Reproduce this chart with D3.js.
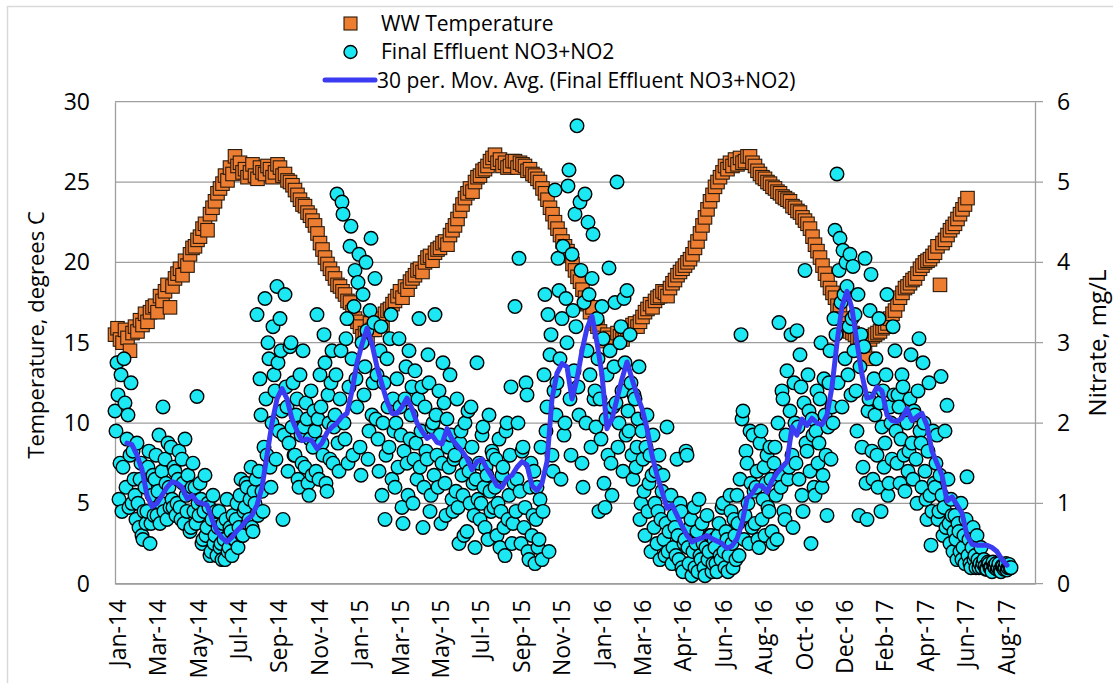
<!DOCTYPE html>
<html>
<head>
<meta charset="utf-8">
<script src="https://cdn.jsdelivr.net/npm/d3@7"></script>
<style>
  body { margin: 0; background: #fff; }
  svg text { font-family: "Open Sans", sans-serif; fill: #000; }
</style>
</head>
<body>
<div id="chart"></div>
<script>
// x axis labels, one every tickStep samples
const xLabels = ["Jan-14","Mar-14","May-14","Jul-14","Sep-14","Nov-14","Jan-15","Mar-15","May-15","Jul-15","Sep-15","Nov-15",
                 "Jan-16","Mar-16","Apr-16","Jun-16","Aug-16","Oct-16","Dec-16","Feb-17","Apr-17","Jun-17","Aug-17"];

// WW temperature (deg C), one reading every 2.5 samples from sample 0
const tempStep = 2.5;
const wwTemp = [
  15.5, 15.9, 15.2, 15.0, 15.8, 15.3, 14.5, 15.6, 16.0, 15.7,
  16.4, 16.1, 16.8, 16.3, 16.9, 17.2, 17.3, 16.9, 17.9, 17.6,
  18.2, 18.6, 17.2, 18.5, 19.0, 19.3, 19.6, 19.2, 20.1, 19.8,
  20.5, 20.9, 21.0, 21.4, 21.6, 22.1, 22.4, 22.0, 23.0, 23.4,
  23.8, 24.3, 24.6, 24.9, 25.4, 25.1, 25.9, 25.5, 26.6, 26.0,
  26.2, 25.6, 25.8, 25.3, 25.6, 26.1, 25.4, 25.2, 25.9, 25.6,
  25.5, 26.0, 25.8, 25.3, 25.6, 26.1, 25.9, 25.4, 25.5, 25.1,
  25.0, 24.8, 24.5, 24.2, 23.9, 23.6, 23.5, 23.1, 22.9, 22.6,
  22.3, 21.8, 21.2, 20.8, 20.3, 19.9, 19.6, 19.3, 19.0, 18.6,
  18.5, 18.2, 18.0, 17.6, 17.5, 16.9, 16.5, 16.3, 16.0, 15.4,
  15.6, 15.3, 16.2, 15.8, 15.8, 16.3, 16.5, 16.1, 16.8, 17.0,
  17.1, 17.4, 17.6, 17.9, 18.2, 17.8, 18.5, 18.3, 18.8, 19.0,
  19.2, 19.5, 19.6, 19.4, 20.0, 20.3, 20.4, 20.1, 20.6, 20.8,
  20.9, 21.2, 21.3, 21.1, 21.7, 22.0, 22.3, 22.7, 23.2, 23.6,
  24.0, 24.3, 24.6, 24.4, 25.0, 25.3, 25.4, 25.7, 25.8, 26.0,
  26.3, 26.5, 26.7, 26.2, 26.4, 26.0, 26.2, 25.9, 26.0, 26.3,
  26.3, 25.9, 26.2, 26.1, 26.0, 25.7, 25.8, 25.5, 25.4, 25.2,
  25.0, 24.6, 24.3, 23.9, 23.4, 23.0, 22.5, 22.1, 21.7, 21.3,
  21.0, 20.7, 20.4, 19.9, 19.5, 19.1, 18.8, 18.3, 17.8, 17.4,
  16.9, 17.2, 16.2, 16.0, 15.7, 15.3, 15.1, 15.5, 15.3, 15.0,
  15.0, 15.6, 15.4, 15.2, 15.6, 15.8, 15.9, 16.1, 16.2, 16.0,
  16.3, 16.6, 16.9, 17.1, 17.4, 17.2, 17.6, 17.8, 17.9, 18.2,
  18.1, 17.9, 18.4, 18.7, 18.9, 19.2, 19.4, 19.6, 19.8, 20.0,
  20.2, 20.5, 20.9, 21.3, 21.8, 22.3, 22.8, 23.3, 23.8, 24.2,
  24.7, 25.0, 25.3, 25.6, 26.0, 25.8, 26.2, 26.0, 26.4, 26.1,
  26.5, 26.2, 26.3, 26.6, 26.6, 26.2, 26.0, 25.7, 25.5, 25.3,
  25.2, 25.0, 24.9, 24.7, 24.6, 24.4, 24.3, 24.1, 24.0, 23.9,
  23.8, 23.5, 23.4, 23.2, 23.1, 22.8, 22.6, 22.4, 22.1, 21.6,
  21.1, 20.7, 20.3, 19.8, 19.3, 18.9, 18.4, 18.1, 17.8, 17.3,
  17.0, 16.5, 16.2, 15.9, 15.7, 15.6, 15.5, 15.3, 15.4, 15.1,
  14.8, 14.0, 15.2, 15.4, 15.5, 15.6, 15.7, 15.9, 16.0, 16.2,
  16.5, 16.8, 17.0, 17.4, 17.8, 18.1, 18.4, 18.5, 18.7, 18.9,
  19.0, 19.3, 19.6, 19.8, 20.0, 20.1, 20.2, 20.4, 20.6, 21.0,
  18.6, 21.2, 21.4, 21.7, 22.0, 22.2, 22.4, 22.7, 23.0, 23.3,
  23.6, 24.0
];

// final effluent NO3+NO2 (mg/L), one reading per sample from sample 0
const noxStep = 1;
const effluentNox = [
  2.15, 1.9, 2.75, 2.35, 1.05, 1.5, 2.6, 0.9, 1.45, 2.8, 2.25, 1.2, 1.8, 2.1, 0.95, 1.6, 2.5, 1.0, 1.65, 1.3,
  1.1, 0.8, 1.75, 1.0, 0.7, 1.3, 1.5, 0.6, 0.55, 0.9, 1.2, 0.75, 0.9, 1.45, 1.65, 0.5, 0.75, 1.1, 1.35, 0.85,
  1.3, 1.6, 0.85, 1.15, 1.85, 0.75, 1.0, 1.4, 2.2, 0.9, 1.55, 1.25, 0.8, 1.75, 1.2, 0.95, 1.7, 1.05, 0.95, 1.45,
  1.4, 0.85, 1.0, 1.3, 1.65, 0.95, 0.8, 1.55, 1.25, 0.75, 1.8, 1.1, 0.9, 1.35, 1.15, 0.65, 0.7, 1.2, 1.5, 0.9,
  1.2, 0.75, 2.33, 1.0, 0.85, 1.25, 1.05, 0.5, 0.55, 0.9, 1.35, 0.6, 0.7, 1.0, 0.95, 0.35, 0.4, 0.8, 1.1, 0.5,
  0.6, 0.9, 0.35, 0.7, 0.9, 0.45, 0.5, 0.3, 0.75, 0.55, 0.3, 0.8, 1.05, 0.4, 0.45, 0.7, 0.65, 0.35, 0.85, 0.55,
  0.55, 0.8, 1.0, 0.45, 0.7, 1.1, 1.3, 0.6, 0.6, 0.9, 0.95, 1.25, 1.2, 0.75, 0.8, 1.05, 1.45, 0.7, 0.65, 1.15,
  1.0, 1.3, 3.35, 0.85, 1.4, 2.55, 2.1, 1.15, 0.9, 1.7, 3.55, 2.3, 1.6, 3.0, 2.8, 1.45, 1.2, 2.0, 3.2, 2.6,
  2.4, 1.55, 3.7, 2.75, 1.9, 3.3, 2.9, 2.15, 0.8, 1.85, 3.6, 2.45, 2.2, 1.4, 1.75, 2.95, 3.0, 1.95, 2.5, 1.6,
  1.6, 2.1, 2.3, 1.3, 1.2, 2.6, 1.85, 1.5, 2.9, 1.95, 1.45, 2.25, 2.05, 1.25, 1.1, 1.8, 2.4, 1.35, 1.7, 2.15,
  1.9, 1.4, 3.35, 2.05, 1.3, 2.6, 2.2, 1.75, 1.6, 3.1, 2.75, 1.25, 1.15, 2.35, 2.0, 1.55, 2.5, 2.9, 1.5, 1.95,
  2.1, 2.6, 4.85, 1.75, 1.4, 2.3, 2.9, 4.75, 4.6, 2.0, 1.8, 3.05, 3.3, 1.5, 2.45, 4.2, 4.45, 2.8, 1.6, 3.45,
  3.9, 2.55, 2.2, 3.75, 4.1, 1.7, 1.35, 3.0, 3.6, 2.35, 2.7, 4.0, 3.15, 1.55, 1.9, 3.4, 4.3, 2.1, 2.5, 3.25,
  3.8, 2.05, 2.6, 1.8, 1.4, 2.9, 3.2, 1.1, 2.0, 2.5, 0.8, 1.6, 2.8, 2.2, 1.7, 3.05, 3.35, 1.3, 2.3, 1.9,
  1.2, 2.0, 2.55, 1.45, 3.05, 2.2, 1.85, 0.95, 0.75, 1.65, 2.3, 2.7, 1.5, 1.1, 2.9, 1.8, 2.1, 2.45, 1.0, 1.55,
  2.65, 1.75, 1.3, 2.3, 3.3, 1.45, 1.9, 2.45, 0.7, 1.2, 2.2, 1.65, 1.55, 2.85, 2.5, 0.9, 1.1, 1.95, 2.0, 1.35,
  3.35, 2.1, 1.6, 1.2, 2.4, 1.85, 0.75, 1.5, 2.75, 2.25, 1.25, 0.85, 2.05, 1.7, 1.45, 2.6, 1.85, 1.05, 0.9, 1.55,
  1.6, 1.15, 2.3, 0.95, 0.5, 1.75, 1.9, 1.35, 1.1, 0.6, 2.0, 1.5, 0.65, 2.15, 1.4, 1.0, 2.2, 1.7, 1.25, 0.85,
  0.45, 1.3, 2.75, 1.05, 1.5, 0.8, 1.0, 1.85, 1.95, 1.2, 0.7, 1.45, 1.35, 0.55, 2.1, 1.15, 0.9, 1.65, 1.6, 0.95,
  1.2, 1.55, 0.6, 1.0, 1.8, 0.45, 0.9, 1.35, 1.45, 0.7, 0.35, 1.9, 2.0, 0.8, 1.1, 1.6, 2.45, 0.5, 0.75, 1.25,
  3.45, 0.9, 1.3, 2.0, 4.05, 1.15, 0.5, 1.65, 1.7, 0.7, 0.95, 2.5, 2.35, 0.4, 0.3, 1.2, 1.5, 0.6, 0.85, 1.4,
  0.25, 0.8, 1.2, 0.45, 0.55, 1.05, 1.7, 0.3, 0.9, 2.6, 3.6, 1.9, 2.2, 3.35, 0.4, 2.85, 3.1, 1.6, 1.4, 2.4,
  4.9, 2.1, 2.5, 4.05, 3.65, 2.8, 1.3, 3.3, 4.2, 1.85, 2.0, 3.55, 3.0, 4.95, 5.15, 2.3, 1.6, 4.1, 3.4, 2.65,
  4.6, 3.2, 5.7, 2.45, 2.1, 4.75, 3.9, 1.5, 1.2, 3.5, 4.85, 2.0, 2.9, 4.5, 3.6, 2.6, 1.7, 3.8, 4.35, 2.3,
  2.4, 1.95, 3.3, 2.8, 0.9, 2.3, 1.8, 3.45, 3.05, 1.25, 0.95, 2.05, 2.6, 1.6, 3.93, 2.9, 1.5, 1.1, 2.2, 2.7,
  3.5, 2.25, 5.0, 1.7, 2.0, 3.0, 3.2, 2.4, 1.4, 3.55, 2.75, 1.85, 3.65, 2.15, 1.9, 3.1, 2.5, 1.6, 1.3, 2.35,
  2.3, 1.45, 1.7, 2.05, 2.7, 0.8, 1.0, 1.9, 1.55, 1.15, 0.6, 1.7, 2.1, 0.9, 1.25, 1.6, 0.4, 1.35, 1.85, 0.7,
  1.0, 1.4, 0.5, 0.9, 1.6, 0.3, 0.8, 1.15, 1.35, 0.55, 0.35, 0.75, 1.95, 0.4, 0.65, 1.05, 1.1, 0.25, 0.45, 0.85,
  0.7, 0.35, 1.55, 0.6, 0.3, 1.0, 0.9, 0.2, 0.15, 0.5, 0.55, 1.65, 1.6, 0.45, 0.25, 0.7, 0.8, 0.1, 0.4, 0.95,
  0.2, 0.5, 0.65, 0.15, 1.05, 0.35, 0.3, 0.75, 0.5, 0.2, 0.1, 0.45, 0.85, 0.3, 0.4, 0.6, 0.6, 0.15, 0.25, 0.55,
  0.45, 0.25, 0.15, 0.6, 0.75, 0.35, 0.3, 0.95, 1.0, 0.4, 0.2, 0.65, 0.55, 0.15, 0.35, 1.1, 0.9, 0.5, 0.2, 0.8,
  0.6, 0.3, 1.1, 0.75, 0.35, 1.3, 3.1, 2.05, 2.15, 0.55, 0.85, 1.65, 1.5, 1.0, 0.5, 1.9, 1.25, 0.7, 1.85, 1.15,
  0.75, 1.2, 1.4, 0.55, 0.45, 1.75, 1.9, 0.8, 1.05, 1.45, 0.6, 1.25, 1.6, 0.95, 0.9, 1.7, 1.3, 0.65, 0.5, 1.5,
  1.7, 1.1, 0.55, 2.0, 3.25, 1.35, 1.2, 2.4, 2.3, 0.9, 0.8, 1.85, 2.65, 1.3, 1.45, 2.15, 3.1, 1.6, 0.7, 2.5,
  2.0, 1.5, 3.15, 1.95, 1.3, 2.85, 2.45, 1.1, 0.9, 2.25, 3.9, 1.75, 1.65, 2.6, 2.15, 1.4, 0.5, 2.05, 1.85, 1.2,
  1.1, 1.9, 2.4, 1.5, 1.75, 2.3, 3.0, 1.2, 1.35, 2.55, 2.1, 1.6, 0.85, 1.95, 2.5, 2.9, 1.55, 2.2, 2.0, 3.3,
  4.4, 3.1, 5.1, 2.5, 3.9, 4.3, 3.5, 2.2, 4.15, 3.6, 2.8, 4.0, 3.7, 2.6, 3.2, 4.1, 2.35, 3.3, 3.95, 2.9,
  3.35, 2.4, 1.9, 3.6, 0.85, 2.7, 3.1, 1.7, 1.45, 2.95, 4.05, 1.25, 0.8, 2.15, 2.3, 3.4, 3.85, 1.65, 1.3, 2.55,
  2.1, 2.8, 1.6, 1.2, 3.3, 2.25, 0.9, 1.95, 2.4, 1.45, 1.75, 2.6, 3.6, 1.1, 1.25, 2.2, 2.0, 1.55, 3.2, 2.35,
  2.9, 1.9, 1.5, 2.35, 2.2, 1.25, 1.8, 2.6, 2.45, 1.6, 1.15, 2.05, 2.0, 1.4, 1.65, 2.3, 2.85, 1.75, 1.3, 2.15,
  2.1, 1.55, 1.0, 2.4, 3.05, 1.9, 1.75, 1.2, 2.75, 2.0, 1.4, 1.05, 0.8, 1.65, 2.5, 1.1, 0.48, 0.9, 1.9, 1.25,
  1.2, 1.5, 1.85, 0.8, 0.9, 1.35, 2.58, 1.1, 0.6, 0.95, 1.9, 0.7, 2.22, 1.3, 0.75, 0.5, 1.05, 0.85, 0.4, 0.65,
  0.85, 0.55, 0.3, 0.75, 0.65, 0.4, 1.0, 0.3, 0.45, 0.6, 0.25, 0.8, 1.33, 0.35, 0.55, 0.25, 0.2, 0.45, 0.7, 0.3,
  0.35, 0.2, 0.6, 0.3, 0.2, 0.25, 0.45, 0.2, 0.25, 0.3, 0.22, 0.18, 0.18, 0.27, 0.25, 0.2, 0.2, 0.15, 0.27, 0.22,
  0.2, 0.25, 0.18, 0.2, 0.25, 0.17, 0.15, 0.22, 0.22, 0.18, 0.2, 0.25, 0.17, 0.2, 0.24, 0.2, 0.2
];

// 30 per. moving average, one value every 5 samples from sample 12
const maStart = 12, maStep = 5;
const movingAvg = [
  1.75, 1.73, 1.6, 1.42, 1.1, 0.96, 1.0, 1.1, 1.2, 1.27,
  1.25, 1.2, 1.06, 1.1, 1.02, 1.0, 0.98, 0.8, 0.65, 0.57,
  0.52, 0.58, 0.66, 0.72, 0.8, 0.85, 0.98, 1.2, 1.6, 2.0,
  2.3, 2.43, 2.3, 2.05, 1.9, 1.78, 1.8, 1.78, 1.68, 1.75,
  1.88, 1.95, 2.0, 2.08, 2.12, 2.4, 2.75, 2.98, 3.18, 2.98,
  2.7, 2.48, 2.27, 2.12, 2.12, 2.2, 2.31, 2.18, 2.0, 1.9,
  1.81, 1.85, 1.76, 1.74, 1.93, 1.8, 1.72, 1.65, 1.56, 1.42,
  1.52, 1.55, 1.43, 1.33, 1.22, 1.2, 1.31, 1.35, 1.45, 1.52,
  1.48, 1.22, 1.16, 1.25, 1.52, 2.3, 2.62, 2.74, 2.7, 2.3,
  2.55, 2.9, 3.18, 3.33, 3.0, 2.6, 1.93, 2.05, 2.3, 2.55,
  2.76, 2.55, 2.35, 2.18, 1.93, 1.6, 1.35, 1.15, 0.94, 0.98,
  0.85, 0.72, 0.6, 0.52, 0.55, 0.57, 0.6, 0.56, 0.53, 0.5,
  0.44, 0.47, 0.56, 0.75, 1.06, 1.12, 1.22, 1.22, 1.14, 1.28,
  1.38, 1.45, 1.52, 1.95, 1.85, 2.05, 1.97, 2.06, 2.0, 1.98,
  2.1, 2.45, 3.0, 3.45, 3.64, 3.42, 3.0, 2.6, 2.31, 2.33,
  2.45, 2.4, 2.1, 2.03, 2.02, 2.06, 2.18, 2.03, 2.08, 2.12,
  1.97, 1.65, 1.5, 1.35, 1.03, 1.08, 0.98, 0.88, 0.6, 0.49,
  0.48, 0.48, 0.48, 0.45, 0.4, 0.3, 0.23
];

const width = 1113, height = 683;
const plot = {left: 115, right: 1035, top: 101.7, bottom: 583.7};
const tickStart = 2, tickStep = 40.4;

const svg = d3.select("#chart").append("svg")
  .attr("width", width).attr("height", height);

// chart frame
svg.append("rect")
  .attr("x", 7.5).attr("y", 6.5).attr("width", 1120).attr("height", 700)
  .attr("fill", "none").attr("stroke", "#d9d9d9").attr("stroke-width", 1.5);

const x = d3.scaleLinear().domain([0, 920]).range([plot.left, plot.right]);
const yL = d3.scaleLinear().domain([0, 30]).range([plot.bottom, plot.top]);
const yR = d3.scaleLinear().domain([0, 6]).range([plot.bottom, plot.top]);

// gridlines (extend past the right edge as the right axis ticks)
svg.append("g")
  .selectAll("line")
  .data(d3.range(0, 31, 5))
  .join("line")
    .attr("x1", plot.left).attr("x2", plot.right + 8)
    .attr("y1", d => yL(d)).attr("y2", d => yL(d))
    .attr("stroke", "#9e9e9e").attr("stroke-width", 1.3);

// left axis
const gL = svg.append("g")
  .attr("transform", "translate(" + plot.left + ",0)")
  .call(d3.axisLeft(yL).tickValues(d3.range(0, 31, 5)).tickSize(0).tickPadding(25));
gL.select(".domain").attr("stroke", "#9e9e9e").attr("stroke-width", 1.3);
gL.selectAll("text").style("font-size", "23px");

// right axis
const gR = svg.append("g")
  .attr("transform", "translate(" + plot.right + ",0)")
  .call(d3.axisRight(yR).ticks(6).tickSize(0).tickPadding(22));
gR.select(".domain").attr("stroke", "#9e9e9e").attr("stroke-width", 1.3);
gR.selectAll("text").style("font-size", "23px");

// bottom axis, rotated labels
const gB = svg.append("g")
  .attr("transform", "translate(0," + plot.bottom + ")")
  .call(d3.axisBottom(x)
    .tickValues(xLabels.map((d, i) => tickStart + i * tickStep))
    .tickFormat((d, i) => xLabels[i])
    .tickSize(0));
gB.select(".domain").attr("stroke", "#9e9e9e").attr("stroke-width", 1.3);
gB.selectAll("text")
  .style("font-size", "23px")
  .attr("text-anchor", "end")
  .attr("transform", "rotate(-90)")
  .attr("x", -16).attr("y", 0).attr("dy", "0.36em");

// axis titles
svg.append("text")
  .attr("transform", "translate(36,335) rotate(-90)")
  .attr("text-anchor", "middle").attr("dy", "0.35em")
  .style("font-size", "22px")
  .text("Temperature, degrees C");
svg.append("text")
  .attr("transform", "translate(1098,343) rotate(-90)")
  .attr("text-anchor", "middle").attr("dy", "0.35em")
  .style("font-size", "24px")
  .text("Nitrate, mg/L");

const orange = "#ED7D31", cyan = "#1BE8F3", blue = "#3B3BF2";
const sq = 13.5, rad = 6.8;

// WW temperature squares
svg.append("g")
  .selectAll("rect")
  .data(wwTemp)
  .join("rect")
    .attr("x", (d, i) => x(i * tempStep) - sq / 2)
    .attr("y", d => yL(d) - sq / 2)
    .attr("width", sq).attr("height", sq)
    .attr("fill", orange).attr("stroke", "#2a1a0c").attr("stroke-width", 1.1);

// nitrate circles
svg.append("g")
  .selectAll("circle")
  .data(effluentNox)
  .join("circle")
    .attr("cx", (d, i) => x(i * noxStep))
    .attr("cy", d => yR(d))
    .attr("r", rad)
    .attr("fill", cyan).attr("stroke", "#000").attr("stroke-width", 1.4);

// moving average line
const line = d3.line()
  .x((d, i) => x(maStart + i * maStep))
  .y(d => yR(d));
svg.append("path")
  .datum(movingAvg)
  .attr("d", line)
  .attr("fill", "none").attr("stroke", blue).attr("stroke-width", 5)
  .attr("stroke-linejoin", "round").attr("stroke-linecap", "round");

// legend
const legend = svg.append("g");
legend.append("rect")
  .attr("x", 344).attr("y", 17).attr("width", 13).attr("height", 13)
  .attr("fill", orange).attr("stroke", "#2a1a0c").attr("stroke-width", 1.1);
legend.append("circle")
  .attr("cx", 350.5).attr("cy", 52).attr("r", 6.5)
  .attr("fill", cyan).attr("stroke", "#000").attr("stroke-width", 1.4);
legend.append("line")
  .attr("x1", 325).attr("x2", 375).attr("y1", 80).attr("y2", 80)
  .attr("stroke", blue).attr("stroke-width", 5).attr("stroke-linecap", "round");
const legendText = ["WW Temperature", "Final Effluent NO3+NO2", "30 per. Mov. Avg. (Final Effluent NO3+NO2)"];
legend.selectAll("text")
  .data(legendText)
  .join("text")
    .attr("x", (d, i) => i === 2 ? 377 : 381)
    .attr("y", (d, i) => 23.5 + i * 28.5)
    .attr("dy", "0.35em")
    .style("font-size", "21px")
    .text(d => d);
</script>
</body>
</html>
